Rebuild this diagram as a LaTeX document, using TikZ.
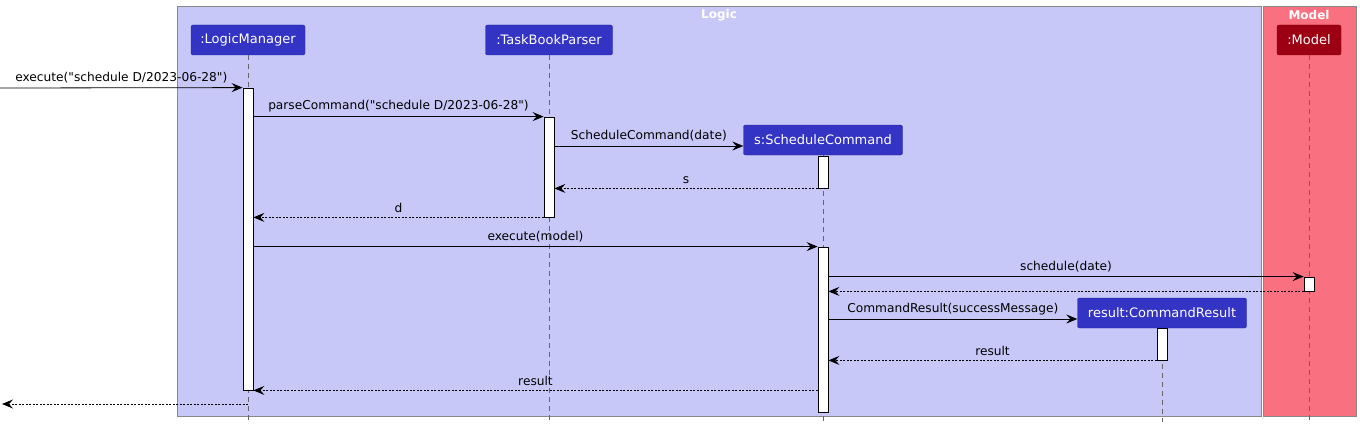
\documentclass[tikz,border=0pt]{standalone}
\usepackage{fontspec}
\setmainfont{DejaVu Sans}
\usetikzlibrary{arrows.meta}

\definecolor{logicbg}{HTML}{C8C8F8}
\definecolor{modelbg}{HTML}{F97181}
\definecolor{logicblue}{HTML}{3333C4}
\definecolor{modelred}{HTML}{9D0012}
\definecolor{framegray}{HTML}{888888}

\newcommand{\dq}{\textquotedbl}

\tikzset{
  actor/.style={rectangle, rounded corners=2pt, fill=logicblue,
    draw=logicblue!80!black, text=white, minimum height=30,
    inner sep=0pt, font=\fontsize{13}{15}\selectfont},
  lifeline/.style={draw=black!60, dash pattern=on 5pt off 4pt, line width=0.6pt},
  activation/.style={rectangle, draw=black, fill=white, minimum width=10,
    inner sep=0pt, line width=0.8pt},
  call/.style={-{Stealth[length=11pt, width=9pt, inset=4pt]}, line width=0.8pt},
  reply/.style={call, dash pattern=on 2pt off 1.5pt},
  msg/.style={midway, above=3pt, inner sep=1pt,
    font=\fontsize{12.2}{14}\selectfont, text=black},
  frametitle/.style={text=white, font=\bfseries\fontsize{12}{14}\selectfont}
}

\begin{document}
\begin{tikzpicture}[x=1pt, y=-1pt]

    \useasboundingbox (0,0) rectangle (1360,428);

    \draw[fill=logicbg, draw=framegray, line width=0.8pt] (177,6) rectangle (1261,416);
    \draw[fill=modelbg, draw=framegray, line width=0.8pt] (1263,6) rectangle (1356,416);
    \node[frametitle] (logicTitle) at (719,15) {Logic};
    \node[frametitle] (modelTitle) at (1309,15) {Model};


    \node[actor, minimum width=114] (lm) at (248,40) {:LogicManager};
    \node[actor, minimum width=127] (tbp) at (549,40) {:TaskBookParser};
    \node[actor, minimum width=159] (sc) at (823,140) {s:ScheduleCommand};
    \node[actor, minimum width=169] (cr) at (1162,313) {result:CommandResult};
    \node[actor, minimum width=64, fill=modelred,
      draw=modelred!80!black] (model) at (1309,40) {:Model};

    \coordinate (lmEnd) at (248,422);
    \coordinate (tbpEnd) at (549,422);
    \coordinate (scEnd) at (823,422);
    \coordinate (crEnd) at (1162,422);
    \coordinate (modelEnd) at (1309,422);

    \draw[lifeline] (lm.south) -- (lmEnd);
    \draw[lifeline] (tbp.south) -- (tbpEnd);
    \draw[lifeline] (sc.south) -- (scEnd);
    \draw[lifeline] (cr.south) -- (crEnd);
    \draw[lifeline] (model.south) -- (modelEnd);


    \node[activation, minimum height=302] (actLM) at (248,239) {};
    \node[activation, minimum height=100] (actTP) at (549,167) {};
    \node[activation, minimum height=32] (actS1) at (823,172) {};
    \node[activation, minimum height=165] (actS2) at (823,329.5) {};
    \node[activation, minimum height=14] (actM) at (1309,284) {};
    \node[activation, minimum height=32] (actR) at (1162,344) {};

    \coordinate (entry) at (0,88);
    \coordinate (exitPt) at (2,404);
    \coordinate (lmOut) at (248,404);
    \coordinate (scIn) at ([yshift=-6pt]sc.west);
    \coordinate (crIn) at ([yshift=-6pt]cr.west);


      \draw[call] (entry) -- (actLM.north west)
        node[msg] {execute(\dq schedule D/2023-06-28\dq)};
      \draw[call] (actLM.east |- actTP.north) -- (actTP.north west)
        node[msg] {parseCommand(\dq schedule D/2023-06-28\dq)};
      \draw[call] (scIn -| actTP.east) -- (scIn)
        node[msg] {ScheduleCommand(date)};
      \draw[reply] (actS1.south west) -- (actS1.south west -| actTP.east)
        node[msg] {s};
      \draw[reply] (actTP.south west) -- (actTP.south west -| actLM.east)
        node[msg] {d};
      \draw[call] (actLM.east |- actS2.north) -- (actS2.north west)
        node[msg] {execute(model)};
      \draw[call] (actS2.east |- actM.north) -- (actM.north west)
        node[msg] {schedule(date)};
      \draw[reply] (actM.south west) -- (actM.south west -| actS2.east);
      \draw[call] (crIn -| actS2.east) -- (crIn)
        node[msg] {CommandResult(successMessage)};
      \draw[reply] (actR.south west) -- (actR.south west -| actS2.east)
        node[msg] {result};
      \draw[reply] (actS2.west |- actLM.south) -- (actLM.south east)
        node[msg] {result};
      \draw[reply] (lmOut) -- (exitPt);
\end{tikzpicture}
\end{document}
